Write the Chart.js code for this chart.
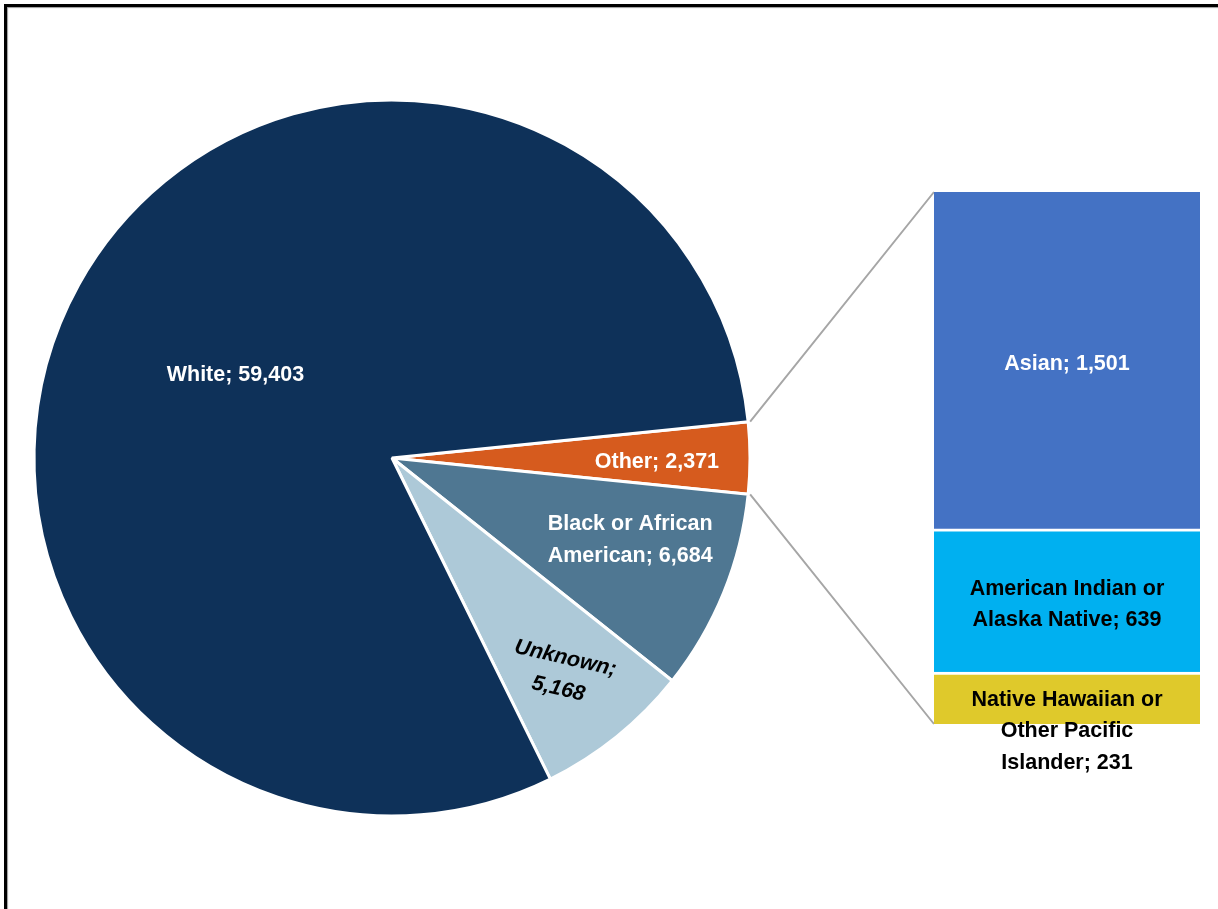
<!DOCTYPE html>
<html>
<head>
<meta charset="utf-8">
<script src="https://cdn.jsdelivr.net/npm/chart.js@4.4.1/dist/chart.umd.min.js"></script>
<style>
body{margin:0;background:#fff;}
#wrap{position:relative;width:1218px;height:909px;overflow:hidden;background:#fff;}
#frame{position:absolute;left:4px;top:4px;width:1300px;height:1000px;border:3px solid #000;box-shadow:inset 1px 1px 1px #9a9a9a;}
canvas{position:absolute;left:0;top:0;}
</style>
</head>
<body>
<div id="wrap">
<div id="frame"></div>
<canvas id="pieChart" width="1218" height="909"></canvas>
<canvas id="barChart" width="1218" height="909"></canvas>
</div>
<script>
// main pie: "Other" is the slice broken out into the bar on the right
const pieLabels = ["Other", "Black or African American", "Unknown", "White"];
const pieValues = [2371, 6684, 5168, 59403];
const pieColors = ["#d65b1e", "#4f7792", "#adc9d8", "#0e3159"];

// breakdown of "Other", bottom to top
const barLabels = ["Native Hawaiian or Other Pacific Islander", "American Indian or Alaska Native", "Asian"];
const barValues = [231, 639, 1501];
const barColors = ["#dfc92b", "#00b0f0", "#4472c4"];

// label styling
const pieLabelRadius = [0.74, 0.70, 0.76, 0.5];
const pieLabelShift = [0, -4, 0, 0];   // degrees off the slice middle
const pieLabelWrap = [1000, 180, 120, 1000];
const pieLabelTilt = [0, 0, 13, 0];
const pieLabelColor = ["#fff", "#fff", "#000", "#fff"];
const pieLabelItalic = [false, false, true, false];
const barLabelColor = ["#000", "#000", "#fff"];

const FONT = '"Liberation Sans", Arial, sans-serif';
const LINE_H = 31.5;
const TEXT_DY = 4;

function fmt(v){
  return v.toLocaleString("en-US");
}

function wrapText(ctx, text, maxWidth){
  let words = text.split(" ");
  let lines = [];
  let cur = "";
  words.forEach(function(w){
    let test = cur ? cur + " " + w : w;
    if(cur && ctx.measureText(test).width > maxWidth){
      lines.push(cur);
      cur = w;
    } else {
      cur = test;
    }
  });
  if(cur) lines.push(cur);
  return lines;
}

function drawLines(ctx, lines, x, yFirst){
  lines.forEach(function(l, i){
    ctx.fillText(l, x, yFirst + i * LINE_H + TEXT_DY);
  });
}

const pieLabelPlugin = {
  id: "pieLabels",
  afterDatasetsDraw(chart){
    let ctx = chart.ctx;
    let meta = chart.getDatasetMeta(0);
    meta.data.forEach(function(arc, i){
      let p = arc.getProps(["x", "y", "startAngle", "endAngle", "outerRadius"], true);
      let mid = (p.startAngle + p.endAngle) / 2 + pieLabelShift[i] * Math.PI / 180;
      let r = p.outerRadius * pieLabelRadius[i];
      let x = p.x + Math.cos(mid) * r;
      let y = p.y + Math.sin(mid) * r;
      ctx.save();
      ctx.font = (pieLabelItalic[i] ? "italic " : "") + "bold 21.5px " + FONT;
      ctx.fillStyle = pieLabelColor[i];
      ctx.textAlign = "center";
      ctx.textBaseline = "middle";
      ctx.translate(x, y);
      ctx.rotate(pieLabelTilt[i] * Math.PI / 180);
      let lines = wrapText(ctx, pieLabels[i] + "; " + fmt(pieValues[i]), pieLabelWrap[i]);
      drawLines(ctx, lines, 0, -(lines.length - 1) * LINE_H / 2);
      ctx.restore();
    });
  }
};

let otherFrac = pieValues[0] / pieValues.reduce((a, b) => a + b, 0);

let pieChart = new Chart(document.getElementById("pieChart").getContext("2d"), {
  type: "pie",
  data: {
    labels: pieLabels,
    datasets: [{
      data: pieValues,
      backgroundColor: pieColors,
      borderColor: "#fff",
      borderWidth: 3
    }]
  },
  options: {
    responsive: false,
    animation: false,
    rotation: 90 - otherFrac * 180,
    radius: 358,
    layout: { padding: { left: 33, right: 467, top: 99, bottom: 92 } },
    plugins: { legend: { display: false }, tooltip: { enabled: false } }
  },
  plugins: [pieLabelPlugin]
});

const barLabelPlugin = {
  id: "barLabels",
  beforeDatasetsDraw(chart){
    // connector lines from the "Other" slice to the bar
    let ctx = chart.ctx;
    let arc = pieChart.getDatasetMeta(0).data[0].getProps(["x", "y", "startAngle", "endAngle", "outerRadius"], true);
    let top = chart.getDatasetMeta(barValues.length - 1).data[0];
    let bottom = chart.getDatasetMeta(0).data[0];
    let left = top.x - top.width / 2;
    let r = arc.outerRadius + 2;
    ctx.save();
    ctx.strokeStyle = "#a6a6a6";
    ctx.lineWidth = 2;
    ctx.beginPath();
    ctx.moveTo(arc.x + Math.cos(arc.startAngle) * r, arc.y + Math.sin(arc.startAngle) * r);
    ctx.lineTo(left, top.y);
    ctx.moveTo(arc.x + Math.cos(arc.endAngle) * r, arc.y + Math.sin(arc.endAngle) * r);
    ctx.lineTo(left, bottom.base);
    ctx.stroke();
    ctx.restore();
  },
  afterDatasetsDraw(chart){
    let ctx = chart.ctx;
    ctx.save();
    ctx.font = "bold 21.5px " + FONT;
    ctx.textAlign = "center";
    ctx.textBaseline = "middle";
    barLabels.forEach(function(lbl, i){
      let bar = chart.getDatasetMeta(i).data[0];
      let lines = wrapText(ctx, lbl + "; " + fmt(barValues[i]), 205);
      let h = lines.length * LINE_H;
      let topY = Math.max((bar.y + bar.base) / 2 - h / 2, bar.y + 8);
      ctx.fillStyle = barLabelColor[i];
      drawLines(ctx, lines, bar.x, topY + LINE_H / 2);
    });
    ctx.restore();
  }
};

let barChart = new Chart(document.getElementById("barChart").getContext("2d"), {
  type: "bar",
  data: {
    labels: ["Other"],
    datasets: barLabels.map(function(lbl, i){
      return {
        label: lbl,
        data: [barValues[i]],
        backgroundColor: barColors[i],
        borderColor: "#fff",
        borderWidth: i === barLabels.length - 1 ? 0 : { top: 3, left: 0, right: 0, bottom: 0 },
        borderSkipped: "bottom",
        categoryPercentage: 1,
        barPercentage: 1
      };
    })
  },
  options: {
    responsive: false,
    animation: false,
    layout: { padding: { left: 934, right: 18, top: 192, bottom: 185 } },
    scales: {
      x: { display: false, stacked: true },
      y: { display: false, stacked: true, min: 0, max: barValues.reduce((a, b) => a + b, 0) }
    },
    plugins: { legend: { display: false }, tooltip: { enabled: false } }
  },
  plugins: [barLabelPlugin]
});
</script>
</body>
</html>
